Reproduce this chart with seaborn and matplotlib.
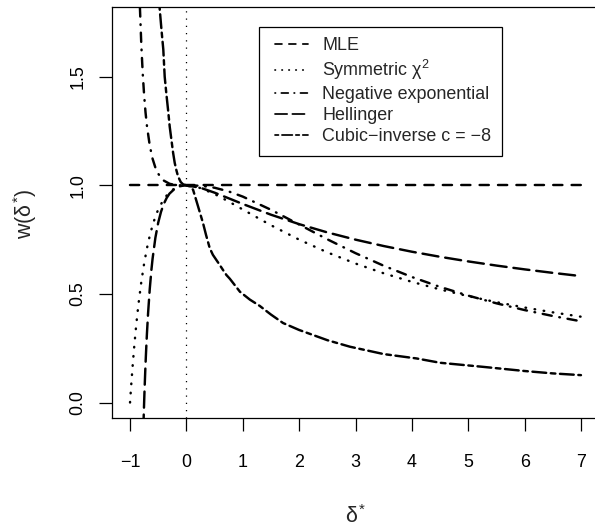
import pandas as pd
import seaborn as sns
import matplotlib.pyplot as plt
from matplotlib.lines import Line2D
from matplotlib.legend_handler import HandlerLine2D

# weight functions w(delta*)
mle_delta = [-1.0, 7.0]
mle_w = [1.0, 1.0]

scs_delta = [-1.0, -0.99, -0.975, -0.95, -0.925, -0.9, -0.875, -0.85, -0.8, -0.75, -0.7,
             -0.65, -0.6, -0.55, -0.5, -0.4, -0.3, -0.2, -0.1, 0.0, 0.25, 0.5, 0.75, 1.0,
             1.5, 2.0, 2.5, 3.0, 3.5, 4.0, 4.5, 5.0, 5.5, 6.0, 6.5, 7.0]
scs_w = [0.0, 0.0392, 0.0952, 0.1814, 0.2596, 0.3306, 0.3951, 0.4537, 0.5556, 0.64, 0.7101,
         0.7682, 0.8163, 0.8561, 0.8889, 0.9375, 0.9689, 0.9877, 0.9972, 1.0, 0.9877, 0.96,
         0.9256, 0.8889, 0.8163, 0.75, 0.6914, 0.64, 0.595, 0.5556, 0.5207, 0.4898, 0.4622,
         0.4375, 0.4152, 0.3951]

ned_delta = [-0.84, -0.825, -0.8, -0.775, -0.75, -0.725, -0.7, -0.65, -0.6, -0.55, -0.5,
             -0.45, -0.4, -0.3, -0.2, -0.1, 0.0, 0.25, 0.5, 0.75, 1.0, 1.5, 2.0, 2.5, 3.0,
             3.5, 4.0, 4.5, 5.0, 5.5, 6.0, 6.5, 7.0]
ned_w = [1.956, 1.8217, 1.647, 1.5156, 1.415, 1.3357, 1.2737, 1.1831, 1.1225, 1.0815, 1.0538,
         1.0347, 1.0218, 1.0074, 1.0019, 1.0002, 1.0, 0.9982, 0.9891, 0.972, 0.9482, 0.8876,
         0.8196, 0.7516, 0.6878, 0.6298, 0.578, 0.5323, 0.4921, 0.4568, 0.4257, 0.3983, 0.374]

hel_delta = [-0.765, -0.76, -0.75, -0.745, -0.74, -0.73, -0.72, -0.71, -0.7, -0.68, -0.65,
             -0.62, -0.6, -0.55, -0.5, -0.45, -0.4, -0.35, -0.3, -0.2, -0.1, 0.0, 0.25, 0.5,
             0.75, 1.0, 1.5, 2.0, 2.5, 3.0, 3.5, 4.0, 4.5, 5.0, 5.5, 6.0, 6.5, 7.0]
hel_w = [-0.1296, -0.084, 0.0, 0.0391, 0.0762, 0.1453, 0.2083, 0.2656, 0.3181, 0.4105, 0.5234,
         0.6128, 0.6623, 0.7592, 0.8284, 0.8786, 0.9153, 0.9422, 0.9619, 0.9861, 0.9971, 1.0,
         0.9889, 0.9663, 0.9404, 0.9142, 0.8649, 0.8214, 0.7833, 0.75, 0.7206, 0.6944, 0.671,
         0.6498, 0.6306, 0.6131, 0.597, 0.5821]

cub_delta = [-0.478, -0.473, -0.44, -0.41, -0.385, -0.355, -0.326, -0.296, -0.266, -0.236,
             -0.207, -0.178, -0.148, -0.1, -0.06, 0.0, 0.06, 0.118, 0.207, 0.295, 0.35, 0.414,
             0.47, 0.59, 0.65, 0.71, 0.77, 0.86, 0.95, 1.125, 1.3, 1.5, 1.715, 2.0, 2.5, 2.9,
             3.5, 4.08, 4.5, 5.27, 6.0, 6.5, 7.0]
cub_w = [1.83, 1.81, 1.71, 1.626, 1.5, 1.42, 1.349, 1.27, 1.21, 1.15, 1.103, 1.07, 1.041, 1.015,
         1.005, 1.0, 0.995, 0.98, 0.903, 0.826, 0.77, 0.711, 0.68, 0.634, 0.61, 0.587, 0.57,
         0.54, 0.51, 0.474, 0.445, 0.405, 0.366, 0.334, 0.287, 0.257, 0.223, 0.203, 0.183,
         0.164, 0.145, 0.134, 0.126]

methods = ["MLE", "SCS", "NED", "HD", "CI"]
legend_labels = ["MLE", "Symmetric $\\chi^2$", "Negative exponential", "Hellinger",
                 "Cubic\u2212inverse c = \u22128"]
# R lty 2, 3, 4, 5, 6 (in R dash units, dots kept short so they look round)
lty_units = {"MLE": (4, 4), "SCS": (0.25, 3.75), "NED": (0.3, 3.35, 4, 3.35), "HD": (7, 3),
             "CI": (2, 2, 6, 2)}

xticks = [-1, 0, 1, 2, 3, 4, 5, 6, 7]
yticks = [0.0, 0.5, 1.0, 1.5]
ytick_labels = ["0.0", "0.5", "1.0", "1.5"]

series = [(mle_delta, mle_w), (scs_delta, scs_w), (ned_delta, ned_w),
          (hel_delta, hel_w), (cub_delta, cub_w)]
df = pd.concat([pd.DataFrame({"delta": d, "w": w, "method": m})
                for m, (d, w) in zip(methods, series)], ignore_index=True)

sns.set_style("ticks")
plt.rcParams["font.family"] = ["Liberation Sans", "DejaVu Sans"]
plt.rcParams["mathtext.fontset"] = "custom"
plt.rcParams["mathtext.rm"] = "Liberation Sans"
plt.rcParams["mathtext.it"] = "Liberation Sans"
plt.rcParams["mathtext.bf"] = "Liberation Sans:bold"

FS = 12.9
LW = 1.75
LEG_LW = 1.25
UNIT = 1.656  # one R dash unit in points
dash_map = {m: tuple(v * UNIT / LW for v in u) for m, u in lty_units.items()}


class ShiftedLine(HandlerLine2D):
    """Legend line moved a bit to the right, like R's legend inset."""

    def create_artists(self, legend, orig_handle, xdescent, ydescent, width, height,
                       fontsize, trans):
        return super().create_artists(legend, orig_handle, xdescent - 3.7, ydescent,
                                      width, height, fontsize, trans)


fig = plt.figure(figsize=(5.95, 5.29), dpi=100)
ax = fig.add_axes([112 / 595, (529 - 417.7) / 529, (599 - 112) / 595, (417.7 - 7.3) / 529])

sns.lineplot(data=df, x="delta", y="w", style="method", style_order=methods,
             dashes=dash_map, color="black", linewidth=LW, estimator=None,
             sort=False, legend=False, ax=ax)
for line in ax.lines:
    line.set_dash_capstyle("round")

ax.axvline(0, color="black", lw=0.9, linestyle=(0, (1, 4.8)))

ax.set_xlim(-1.32, 7.32)
ax.set_ylim(-0.07, 1.82)
ax.set_xticks(xticks)
ax.set_yticks(yticks, labels=ytick_labels, rotation=90, va="center")
ax.set_xlabel("")
ax.set_ylabel("")

for s in ax.spines.values():
    s.set_visible(True)
    s.set_color("black")
    s.set_linewidth(0.9)
ax.tick_params(axis="both", length=9.7, width=0.9, color="black", labelcolor="black",
               labelsize=FS)
ax.tick_params(axis="x", pad=16.5)
ax.tick_params(axis="y", pad=8.5)

fig.text(356 / 595, 1 - 517 / 529, r"$\delta^{*}$", ha="center", va="center", fontsize=15.5)
fig.text(25 / 595, 1 - 214 / 529, r"w($\delta^{*}$)", ha="center", va="center",
         rotation=90, fontsize=15.5)

handles = [Line2D([], [], color="black", lw=LEG_LW, dashes=lty_units[m],
                  dash_capstyle="round")
           for m in methods]
leg = ax.legend(handles, legend_labels, loc="upper left",
                bbox_to_anchor=(259 / 595, 1 - 26.7 / 529), bbox_transform=fig.transFigure,
                frameon=True, fancybox=False, framealpha=1, edgecolor="black",
                fontsize=FS, borderpad=0.6, borderaxespad=0, labelspacing=0.22,
                handlelength=1.84, handletextpad=1.1,
                handler_map={Line2D: ShiftedLine()})
leg.get_frame().set_linewidth(0.9)

fig.savefig("out.png", dpi=100, facecolor="white")
